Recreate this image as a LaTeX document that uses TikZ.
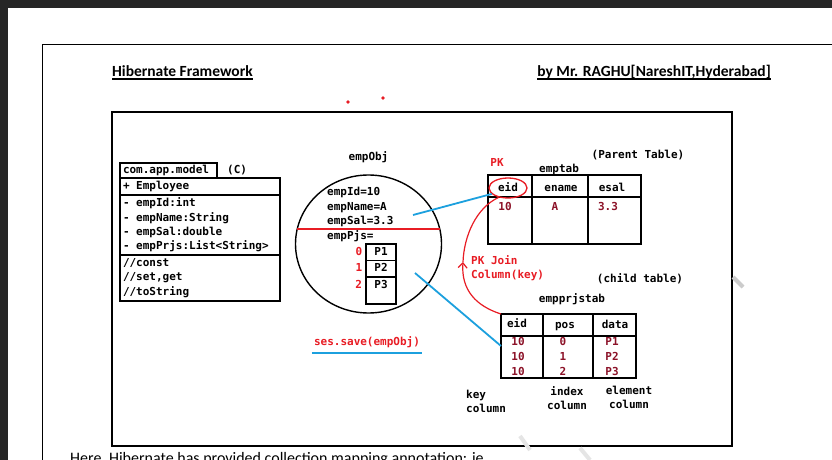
\documentclass[tikz,border=0pt]{standalone}
\usepackage{fontspec}
\setmainfont{Carlito}
\newfontfamily\codefont{DejaVu Sans Mono}
\usetikzlibrary{arrows.meta, shapes.geometric, positioning, calc}
\definecolor{PenRed}{RGB}{232,28,36}
\definecolor{DataRed}{RGB}{140,18,40}
\definecolor{PenBlue}{RGB}{28,160,222}
\definecolor{Screen}{RGB}{38,38,38}

\begin{document}
\begin{tikzpicture}[x=1pt, y=-1pt,
	mono/.style={font=\codefont\bfseries\fontsize{11}{14.4}\selectfont},
	word/.style={mono, inner sep=0pt, text height=8pt, text depth=2pt},
	cls/.style={mono, draw, line width=1.2pt, outer sep=0pt, text width=154pt,
		inner xsep=3pt, inner ysep=2pt, align=left,
		execute at begin node={\spaceskip=0.602em\relax}},
	cell/.style={word, draw, line width=1.2pt, outer sep=0pt,
		minimum width=30pt, minimum height=16.5pt},
	tbl/.style={draw, line width=1.6pt, inner sep=0pt, outer sep=0pt, anchor=north west},
	val/.style={word, text=DataRed},
	rd/.style={word, text=PenRed},
	pkring/.style={word, ellipse, draw=PenRed, line width=1.3pt,
		minimum width=38pt, minimum height=20pt},
	ink/.style={PenRed, line width=1.2pt},
	wire/.style={PenBlue, line width=1.8pt},
	title/.style={font=\bfseries\fontsize{15.5}{18}\selectfont, inner sep=0pt}]
	\useasboundingbox (0,0) rectangle (832,460);
	\fill[Screen] (0,0) rectangle (832,460);
	\fill[white] (8,8) rectangle (832,460);
	\draw[line width=0.8pt] (42,460) -- (42,44) -- (832,44);

	\node[title, anchor=base west] (head) at (112,76) {Hibernate Framework};
	\node[title, anchor=base east] (author) at (771,76) {by Mr. RAGHU[NareshIT,Hyderabad]};
	\draw[line width=1.2pt] ($(head.base west)+(0,3)$) -- ($(head.base east)+(0,3)$);
	\draw[line width=1.2pt] ($(author.base west)+(0,3)$) -- ($(author.base east)+(0,3)$);
	\fill[PenRed] (348,102) circle (1.8pt) (383,98) circle (1.8pt);

	\draw[line width=2pt] (112,112) rectangle (732,446);

	\node[word, draw, line width=1.2pt, outer sep=0pt, inner xsep=3pt, minimum height=15pt,
		text width=91pt, anchor=north west] (pkg) at (120,163) {com.app.model};
	\node[word, right=10pt of pkg] (kind) {(C)};
	\node[cls, minimum height=17pt, anchor=north west] (emp) at (120,178) {+ Employee};
	\node[cls, minimum height=60pt, below=0pt of emp] (attr)
		{- empId:int\\- empName:String\\- empSal:double\\- empPrjs:List<String>};
	\node[cls, minimum height=46pt, below=0pt of attr] (ops) {//const\\//set,get\\//toString};

	\node[draw, ellipse, line width=1.4pt, inner sep=0pt,
		minimum width=146pt, minimum height=138pt] (obj) at (368.5,244) {};
	\node[word, above=12pt of obj] (objname) {empObj};
	\node[word, anchor=west] (f1) at (327,192) {empId=10};
	\node[word, anchor=west] (f2) at (327,207) {empName=A};
	\node[word, anchor=west] (f3) at (327,221) {empSal=3.3};
	\node[word, anchor=west] (f4) at (327,236) {empPjs=};
	\draw[ink] (297.2,229) -- (439.8,229);
	\node[cell, anchor=north west] (p1) at (366,244) {P1};
	\node[cell, below=0pt of p1] (p2) {P2};
	\node[word, minimum width=30pt, minimum height=16.5pt, below=0pt of p2] (p3) {P3};
	\draw[line width=1.2pt] (p2.south west) rectangle ($(p2.south east)+(0,27)$);
	\node[rd, left=3.5pt of p1] (i0) {0};
	\node[rd, left=3.5pt of p2] (i1) {1};
	\node[rd, left=3.5pt of p3] (i2) {2};

	\node[rd] (save) at (367,342) {ses.save(empObj)};
	\draw[wire, line width=2.2pt] ($(save.south west)+(-2,6)$) -- ($(save.south east)+(2,6)$);

	\node[tbl, minimum width=153pt, minimum height=69pt] (emptab) at (488,175) {};
	\draw[line width=1.6pt] ($(emptab.north west)+(0,22)$) -- ($(emptab.north east)+(0,22)$);
	\foreach \c in {44,100}
		\draw[line width=1.6pt] ($(emptab.north west)+(\c,0)$) -- ($(emptab.south west)+(\c,0)$);
	\node[pkring] (pk) at (508,188) {eid};
	\node[word] (ename) at (561,188) {ename};
	\node[word] (esal) at (612,188) {esal};
	\node[val] (e1) at (505,207) {10};
	\node[val] (e2) at (555,207) {A};
	\node[val] (e3) at (608,207) {3.3};
	\node[word] (tabname) at (559,169) {emptab};
	\node[rd] (pklbl) at (497,163) {PK};
	\node[word] (parent) at (638,155) {(Parent Table)};

	\node[tbl, minimum width=135pt, minimum height=64pt] (prjtab) at (501,314) {};
	\draw[line width=1.6pt] ($(prjtab.north west)+(0,22)$) -- ($(prjtab.north east)+(0,22)$);
	\foreach \c in {42,92}
		\draw[line width=1.6pt] ($(prjtab.north west)+(\c,0)$) -- ($(prjtab.south west)+(\c,0)$);
	\node[word] (eid) at (517,324) {eid};
	\node[word] (pos) at (565,325) {pos};
	\node[word] (data) at (615,325) {data};
	\foreach \p [count=\r] in {P1,P2,P3} {
		\node[val] (k\r) at (518,{327+15*\r}) {10};
		\node[val] (n\r) at (563,{327+15*\r}) {\the\numexpr\r-1\relax};
		\node[val] (d\r) at (612,{327+15*\r}) {\p};
	}
	\node[word] (prjname) at (572,299) {empprjstab};
	\node[word] (child) at (640,279) {(child table)};
	\node[mono, inner sep=0pt, align=left, anchor=north west] (keycol) at (466,390) {key\\column};
	\node[mono, inner sep=0pt, align=center, anchor=north] (idxcol) at (567,386) {index\\column};
	\node[mono, inner sep=0pt, align=center, anchor=north] (elmcol) at (629,386) {element\\column};

	\coordinate (top) at (413,215);
	\coordinate (low) at (415,273);
	\draw[wire] (top) -- (pk.200);
	\draw[wire] (low) -- (prjtab.west);

	\coordinate (jn) at (463,262);
	\draw[ink, -{Straight Barb[length=5pt, width=9pt]}] (prjtab.north west)
		.. controls (476,306) and (461,290) .. (jn);
	\draw[ink] (jn) .. controls (464,236) and (476,208) .. (pk.225);
	\node[mono, text=PenRed, inner sep=0pt, align=left, anchor=north west] (join)
		at (471,255) {PK Join\\Column(key)};

	\draw[gray!40, line width=4pt] (733,277) -- (743,287);
	\draw[gray!20, line width=4pt] (520,436) -- (530,450);
	\draw[gray!20, line width=4pt] (580,448) -- (590,460);
	\node[font=\fontsize{16}{19}\selectfont, inner sep=0pt, anchor=base west] (note)
		at (70,463) {Here, Hibernate has provided collection mapping annotation: ie};
\end{tikzpicture}
\end{document}
